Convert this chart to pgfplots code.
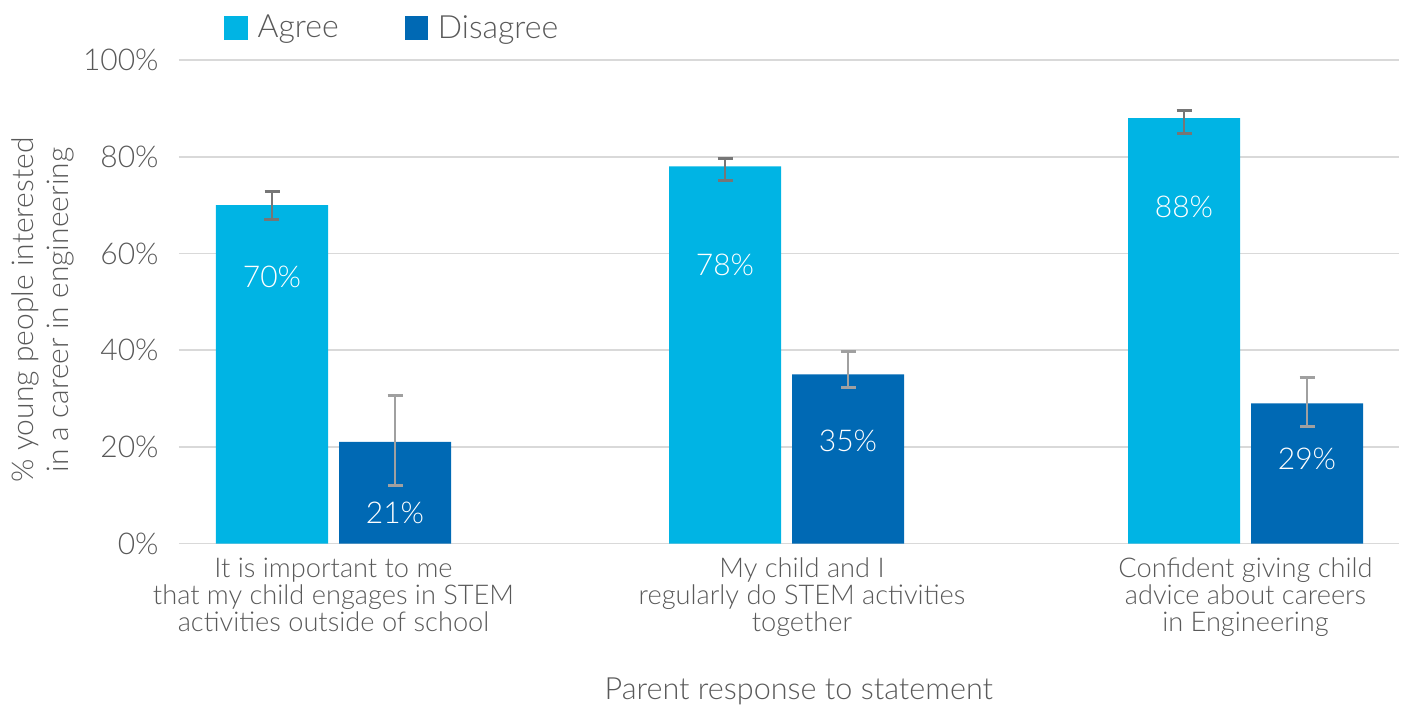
\documentclass[border=0pt]{standalone}
\usepackage{fontspec}
\setmainfont{Lato Light}
\usepackage{pgfplots}
\usepackage{pgfplotstable}
\pgfplotsset{compat=1.18}
\definecolor{agree}{HTML}{00B4E4}
\definecolor{disagree}{HTML}{0069B4}
\definecolor{txt}{HTML}{595959}
\definecolor{gridc}{HTML}{D9D9D9}
\definecolor{erra}{HTML}{767676}
\definecolor{errd}{HTML}{A0A0A0}
\pgfplotstableread{
x y ep em ly v
272 70 2.8 2.95 55.1 70
725 78 1.7 2.9 57.6 78
1184 88 1.6 3.2 69.6 88
}\agreetab
\pgfplotstableread{
x y ep em ly v
395 21 9.65 9.0 6.3 21
848 35 4.75 2.7 21.2 35
1307 29 5.4 4.8 17.5 29
}\disagreetab
\begin{document}
\begin{tikzpicture}
\path[use as bounding box] (-89.5pt,-82.75pt) rectangle (614pt,271.75pt);
\begin{axis}[
  at={(0,0)}, anchor=south west, scale only axis,
  width=610pt, height=241.75pt,
  xmin=179, xmax=1399, ymin=0, ymax=100,
  axis line style={draw=none},
  ytick={0,20,...,100}, yticklabels={0\%,20\%,40\%,60\%,80\%,100\%},
  ymajorgrids, grid style={color=gridc, line width=0.8pt},
  major tick length=0pt,
  yticklabel style={font=\fontsize{15}{17}\selectfont, text=txt, anchor=east, inner sep=0pt, xshift=-10pt},
  xtick={333.5,802,1245.5},
  xticklabels={{It is important to me\\that my child engages in STEM\\activities outside of school},{My child and I\\regularly do STEM activities\\together},{Confident giving child\\advice about careers\\in Engineering}},
  xticklabel style={font=\fontsize{13.6}{13.5}\selectfont, text=txt, align=center, anchor=north, inner sep=0pt, yshift=-7pt},
  ylabel={\% young people interested\\in a career in engineering},
  ylabel style={font=\fontsize{15}{17.5}\selectfont, text=txt, align=center, at={(axis description cs:-0.1115,0.483)}, anchor=center},
  xlabel={Parent response to statement},
  xlabel style={font=\fontsize{15.3}{17}\selectfont, text=txt, at={(axis description cs:0.508,-0.323)}, anchor=base},
  legend style={draw=none, fill=none, at={(axis description cs:0.0369,1.066)}, anchor=west, legend columns=2, font=\fontsize{16}{18}\selectfont, text=txt, inner sep=0pt,
    /tikz/every odd column/.append style={column sep=3pt},
    /tikz/every even column/.append style={column sep=31pt}},
  legend cell align=left,
]
\addplot[ybar, bar width=112, bar shift=0pt, fill=agree, draw=none, forget plot,
  error bars/.cd, y dir=both, y explicit,
  error bar style={color=erra, line width=1pt},
  error mark options={rotate=90, mark size=3.75pt, color=erra, line width=1.4pt}]
  table[x=x, y=y, y error plus=ep, y error minus=em]{\agreetab};
\addplot[ybar, bar width=112, bar shift=0pt, fill=disagree, draw=none, forget plot,
  error bars/.cd, y dir=both, y explicit,
  error bar style={color=errd, line width=1pt},
  error mark options={rotate=90, mark size=3.75pt, color=errd, line width=1.4pt}]
  table[x=x, y=y, y error plus=ep, y error minus=em]{\disagreetab};
\addplot[only marks, mark=none, forget plot, point meta=explicit symbolic,
  nodes near coords={\pgfplotspointmeta\%},
  nodes near coords style={anchor=center, text=white, font=\fontsize{15}{17}\selectfont, inner sep=0pt}]
  table[x=x, y=ly, meta=v]{\agreetab};
\addplot[only marks, mark=none, forget plot, point meta=explicit symbolic,
  nodes near coords={\pgfplotspointmeta\%},
  nodes near coords style={anchor=center, text=white, font=\fontsize{15}{17}\selectfont, inner sep=0pt}]
  table[x=x, y=ly, meta=v]{\disagreetab};
\addlegendimage{legend image code/.code={\fill[agree] (0pt,-5.6pt) rectangle (11.2pt,5.6pt);}}
\addlegendentry{Agree}
\addlegendimage{legend image code/.code={\fill[disagree] (0pt,-5.6pt) rectangle (11.2pt,5.6pt);}}
\addlegendentry{Disagree}
\end{axis}
\end{tikzpicture}
\end{document}
